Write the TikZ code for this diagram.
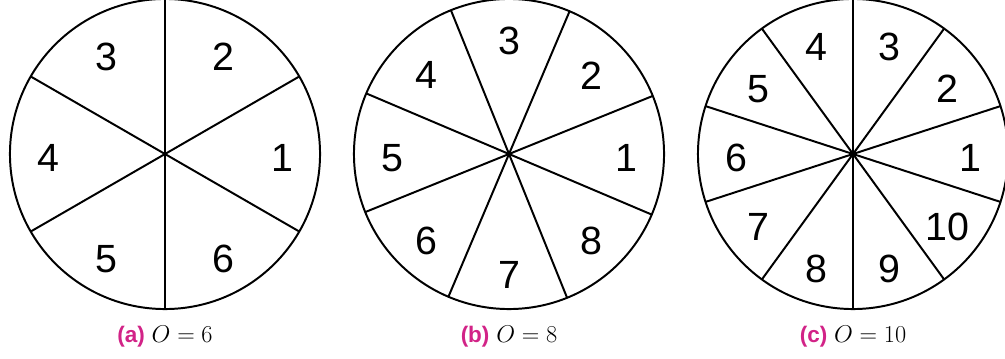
\documentclass[tikz,border=0pt]{standalone}
\usepackage{fontspec}
\setsansfont{Liberation Sans}
\definecolor{subcap}{RGB}{210,35,135}
\tikzset{
  wheel/.style={draw, circle, line width=1.4pt, minimum size=7.75cm, outer sep=0pt, inner sep=0pt},
  spoke/.style={line width=1.4pt},
  sector/.style={font=\sffamily\fontsize{28}{31}\selectfont, inner sep=0pt, yshift=-0.1cm},
  subcaption/.style={font=\fontsize{16}{19}\selectfont, inner sep=0pt}
}
\begin{document}
\begin{tikzpicture}[x=0.025cm, y=0.025cm]
  \useasboundingbox (0,0) rectangle (1005,358);
  % wheels
  \node[wheel] (Wa) at (165,204) {};
  \node[wheel] (Wb) at (509,204) {};
  \node[wheel] (Wc) at (853,204) {};

  % O = 6
  \foreach \a in {30,90,...,330} \draw[spoke] (Wa.center) -- (Wa.\a);
  \foreach \k in {1,...,6} \node[sector] (a\k) at ([shift={({60*(\k-1)}:117)}]Wa.center) {\k};
  % O = 8
  \foreach \a in {22.5,67.5,...,337.5} \draw[spoke] (Wb.center) -- (Wb.\a);
  \foreach \k in {1,...,8} \node[sector] (b\k) at ([shift={({45*(\k-1)}:117)}]Wb.center) {\k};
  % O = 10
  \foreach \a in {18,54,...,342} \draw[spoke] (Wc.center) -- (Wc.\a);
  \foreach \k in {1,...,10} \node[sector] (c\k) at ([shift={({36*(\k-1)}:117)}]Wc.center) {\k};

  % captions
  \node[subcaption] (capa) at (165,21) {\textcolor{subcap}{\sffamily\bfseries (a)} $O = 6$};
  \node[subcaption] (capb) at (509,21) {\textcolor{subcap}{\sffamily\bfseries (b)} $O = 8$};
  \node[subcaption] (capc) at (853,21) {\textcolor{subcap}{\sffamily\bfseries (c)} $O = 10$};
\end{tikzpicture}
\end{document}
